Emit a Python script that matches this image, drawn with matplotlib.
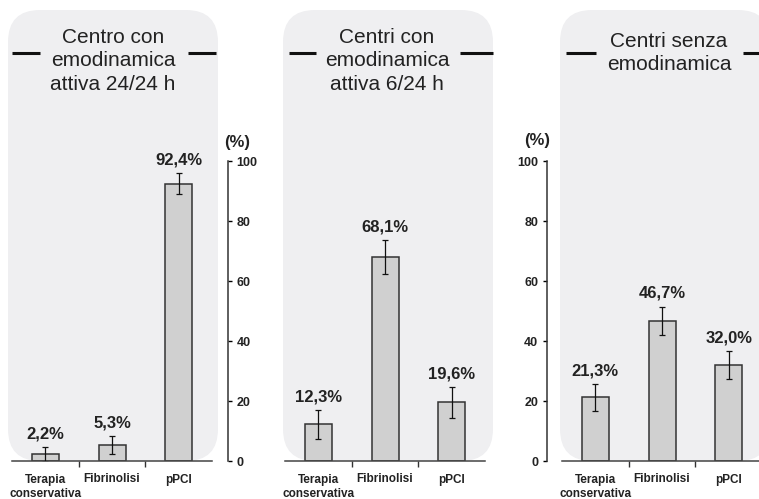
import matplotlib
matplotlib.use("Agg")
import matplotlib.pyplot as plt
from matplotlib.patches import FancyBboxPatch
from matplotlib.lines import Line2D

plt.rcParams['font.family'] = ['Liberation Sans', 'DejaVu Sans']

# Data
categories = ["Terapia\nconservativa", "Fibrinolisi", "pPCI"]
titles = ["Centro con\nemodinamica\nattiva 24/24 h",
          "Centri con\nemodinamica\nattiva 6/24 h",
          "Centri senza\nemodinamica"]
values_24h = [2.2, 5.3, 92.4]
values_6h = [12.3, 68.1, 19.6]
values_none = [21.3, 46.7, 32.0]
errors_24h = [2.4, 3.0, 3.5]
errors_6h = [4.8, 5.7, 5.2]
errors_none = [4.5, 4.8, 4.7]
yticks = [0, 20, 40, 60, 80, 100]

W, H = 759, 499
fig = plt.figure(figsize=(W / 100, H / 100), dpi=100)
fig.patch.set_facecolor("white")

BOX = "#efeff1"
BAR = "#d0d0d0"
EDGE = "#333333"
TXT = "#222222"


def px_box(x0, x1, y0, y1):
    # pixel box (from top-left) -> figure fraction [l, b, w, h]
    return [x0 / W, 1 - y1 / H, (x1 - x0) / W, (y1 - y0) / H]


def background(x0, x1, y0, y1):
    patch = FancyBboxPatch((x0 / 100, (H - y1) / 100), (x1 - x0) / 100, (y1 - y0) / 100,
                           boxstyle="round,pad=0,rounding_size=0.32",
                           transform=fig.dpi_scale_trans, facecolor=BOX,
                           edgecolor="none", zorder=-5)
    fig.patches.append(patch)


def dash(x0, x1, y=53):
    fig.add_artist(Line2D([x0 / W, x1 / W], [1 - y / H, 1 - y / H],
                          color="#111111", lw=2.2, solid_capstyle="butt", zorder=5))


panels = [
    dict(vals=values_24h, errs=errors_24h, title=titles[0], left=12, right=212,
         box=(8, 218), dashes=[(12, 40), (188, 216)], cx=113, ty=61, axis="right"),
    dict(vals=values_6h, errs=errors_6h, title=titles[1], left=285, right=485,
         box=(283, 493), dashes=[(289, 316), (460, 493)], cx=387, ty=61, axis=None),
    dict(vals=values_none, errs=errors_none, title=titles[2], left=562, right=759,
         box=(560, 770), dashes=[(566, 596), (743, 759)], cx=669, ty=53, axis="left"),
]

for p in panels:
    background(p["box"][0], p["box"][1], 10, 461)
    for d in p["dashes"]:
        dash(*d)
    fig.text(p["cx"] / W, 1 - p["ty"] / H, p["title"], ha="center", va="center",
             fontsize=15, color=TXT, linespacing=1.3, zorder=5)

    ax = fig.add_axes(px_box(p["left"], p["right"], 161, 461))
    ax.set_zorder(2)
    ax.patch.set_alpha(0)
    span = (p["right"] - p["left"]) / (200 / 3)
    ax.set_xlim(-0.5, -0.5 + span)
    ax.set_ylim(0, 100)

    x = range(len(categories))
    ax.bar(x, p["vals"], width=0.405, color=BAR, edgecolor=EDGE, linewidth=1.1, zorder=2)
    ax.errorbar(x, p["vals"], yerr=p["errs"], fmt="none", ecolor="#111111",
                elinewidth=0.9, capsize=2.5, capthick=0.9, zorder=3)
    for i, (v, e) in enumerate(zip(p["vals"], p["errs"])):
        ax.annotate(f"{v:.1f}%".replace(".", ","), xy=(i, v + e), xytext=(0, 4),
                    textcoords="offset points", ha="center", va="bottom",
                    fontsize=12, fontweight="bold", color=TXT, annotation_clip=False)

    ax.set_xticks(list(x))
    ax.set_xticklabels(categories, fontsize=8.5, fontweight="bold", color=TXT,
                       linespacing=1.25)
    ax.tick_params(axis="x", length=0, pad=9)
    ax.set_xticks([0.5, 1.5], minor=True)
    ax.tick_params(axis="x", which="minor", length=4, width=1, color="#333333",
                   direction="out")

    ax.spines["top"].set_visible(False)
    ax.spines["bottom"].set_color("#444444")
    ax.spines["bottom"].set_linewidth(1.1)

    if p["axis"] == "right":
        ax.spines["left"].set_visible(False)
        ax.spines["right"].set_position(("axes", (228 - p["left"]) / (p["right"] - p["left"])))
        ax.spines["right"].set_color("#333333")
        ax.spines["right"].set_linewidth(1.1)
        ax.yaxis.tick_right()
        ax.set_yticks(yticks)
        ax.tick_params(axis="y", direction="out", length=3, width=1, pad=3,
                       labelsize=9, labelcolor=TXT)
        for lab in ax.get_yticklabels():
            lab.set_fontweight("bold")
        fig.text(237 / W, 1 - 142 / H, "(%)", ha="center", va="center",
                 fontsize=12, fontweight="bold", color=TXT)
    elif p["axis"] == "left":
        ax.spines["right"].set_visible(False)
        ax.spines["left"].set_position(("axes", (546.7 - p["left"]) / (p["right"] - p["left"])))
        ax.spines["left"].set_color("#333333")
        ax.spines["left"].set_linewidth(1.1)
        ax.set_yticks(yticks)
        ax.tick_params(axis="y", direction="out", length=3, width=1, pad=3,
                       labelsize=9, labelcolor=TXT)
        for lab in ax.get_yticklabels():
            lab.set_fontweight("bold")
        fig.text(537 / W, 1 - 140 / H, "(%)", ha="center", va="center",
                 fontsize=12, fontweight="bold", color=TXT)
    else:
        ax.spines["left"].set_visible(False)
        ax.spines["right"].set_visible(False)
        ax.set_yticks([])

fig.savefig("out.png", dpi=100, facecolor="white")
